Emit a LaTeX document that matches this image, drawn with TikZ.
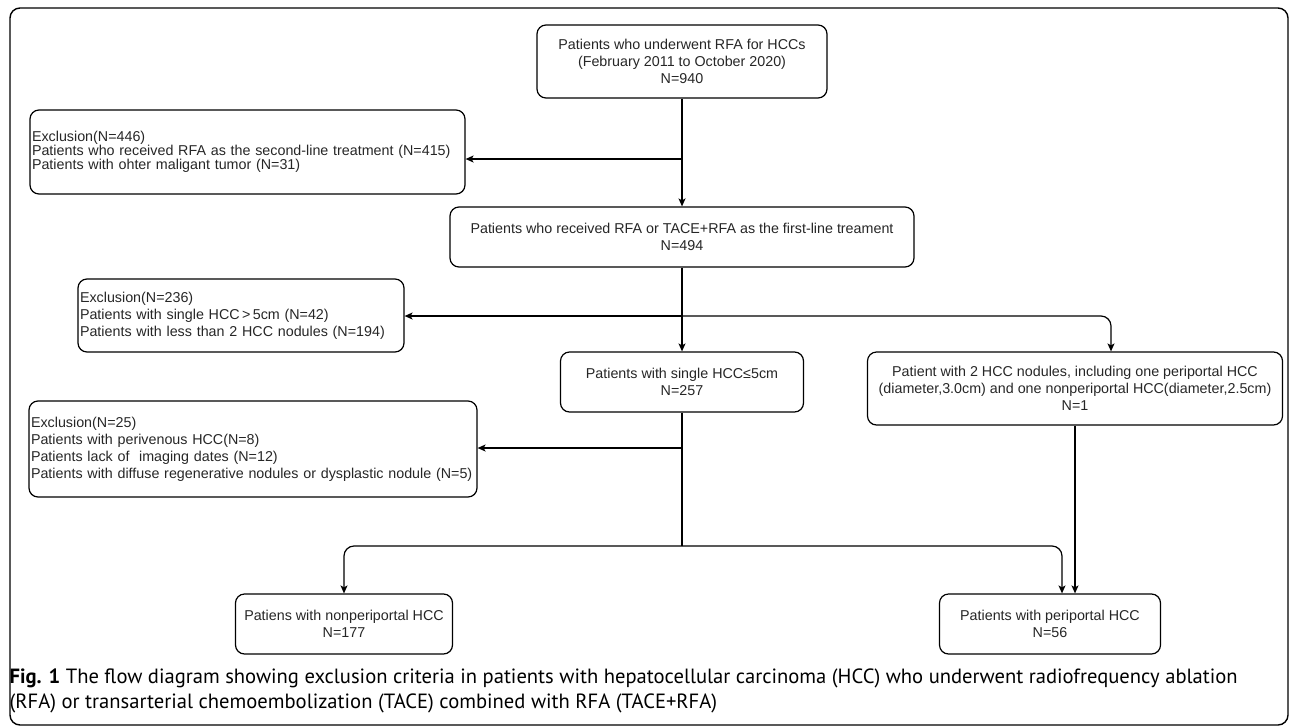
\documentclass[tikz,border=0pt]{standalone}
\usepackage{fontspec}
\setmainfont{Liberation Sans}
\newfontfamily\capfont{PT Sans}
\usetikzlibrary{arrows.meta,positioning}

\begin{document}
\begin{tikzpicture}[x=1pt,y=-1pt,>={Stealth[length=8pt,width=7pt,inset=2pt]},
  line width=1.2pt,
  main node/.style={draw,rounded corners=9pt,align=center,inner sep=2pt,text=black!85,font=\fontsize{14.3}{17}\selectfont},
  excl node/.style={main node,align=left}]
\useasboundingbox (0,0) rectangle (1290,726);
\draw[line width=1.4pt,rounded corners=10pt] (10,8) rectangle (1288,725);
%1
  \node[main node,minimum width=290pt,minimum height=73pt] (1) at (682,61.5)
    {Patients who underwent RFA for HCCs\\(February 2011 to October 2020)\\N=940};
%2
  \node[excl node,text width=431pt,minimum height=84pt,font=\fontsize{14.3}{13.8}\selectfont] (2) at (247.5,152)
    {Exclusion(N=446)\\Patients who received RFA as the second-line treatment (N=415)\\Patients with ohter maligant tumor (N=31)};
%3
  \node[main node,minimum width=464pt,minimum height=60pt] (3) at (682,237)
    {Patients who received RFA or TACE+RFA as the first-line treament\\N=494};
%4
  \node[excl node,text width=322pt,minimum height=73pt] (4) at (241,315.5)
    {Exclusion(N=236)\\Patients with single HCC\,>\,5cm (N=42)\\Patients with less than 2 HCC nodules (N=194)};
%5
  \node[main node,minimum width=243pt,minimum height=60pt] (5) at (682,382)
    {Patients with single HCC≤5cm\\N=257};
%6
  \node[main node,minimum width=415pt,minimum height=73pt,inner sep=1pt] (6) at (1075,388.5)
    {Patient with 2 HCC nodules, including one periportal HCC\\(diameter,3.0cm) and one nonperiportal HCC(diameter,2.5cm)\\N=1};
%7
  \node[excl node,text width=444pt,minimum height=96pt] (7) at (253,449)
    {Exclusion(N=25)\\Patients with perivenous HCC(N=8)\\Patients lack of~ imaging dates (N=12)\\Patients with diffuse regenerative nodules or dysplastic nodule (N=5)};
%8
  \node[main node,minimum width=217pt,minimum height=60pt] (8) at (344,624)
    {Patiens with nonperiportal HCC\\N=177};
%9
  \node[main node,minimum width=221pt,minimum height=60pt] (9) at (1050,624)
    {Patients with periportal HCC\\N=56};
%caption
  \node[anchor=north west,align=left,inner sep=0pt,font=\capfont\fontsize{20.6}{25}\selectfont] (cap) at (9,668.5)
    {\textbf{Fig. 1} The flow diagram showing exclusion criteria in patients with hepatocellular carcinoma (HCC) who underwent radiofrequency ablation\\(RFA) or transarterial chemoembolization (TACE) combined with RFA (TACE+RFA)};
%paths
  \coordinate (j1) at (682,159);
  \coordinate (j2) at (682,316);
  \coordinate (j3) at (682,448);
  \coordinate (j4) at (682,546);
  \draw[->] (1.south) -- (3.north);
  \draw[->] (j1) -- (j1 -| 2.east);
  \draw[->] (3.south) -- (5.north);
  \draw[->] (j2) -- (j2 -| 4.east);
  \draw[->,rounded corners=10pt] (j2) -| ([xshift=36pt]6.north);
  \draw (5.south) -- (j4);
  \draw[->] (j3) -- (j3 -| 7.east);
  \draw[->,rounded corners=10pt] (j4) -| (8.north);
  \draw[->,rounded corners=10pt] (j4) -| ([xshift=12pt]9.north);
  \draw[->] (6.south) -- (6.south |- 9.north);
\end{tikzpicture}
\end{document}
